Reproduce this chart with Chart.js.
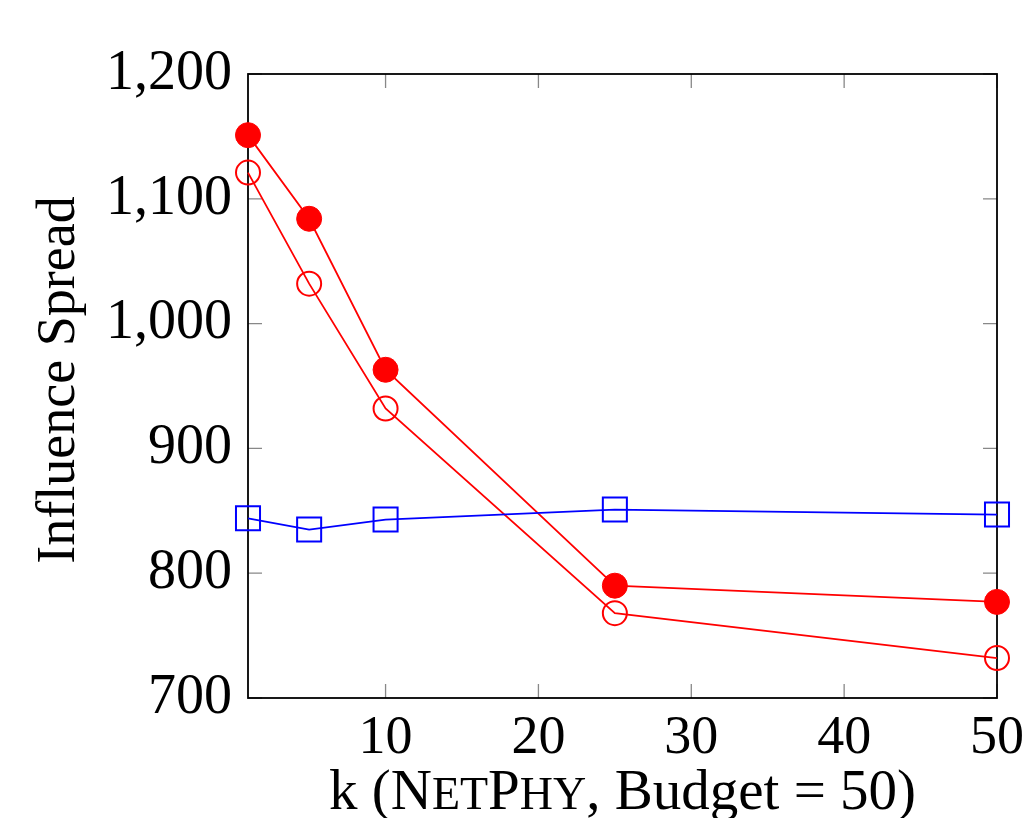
<!DOCTYPE html>
<html>
<head>
<meta charset="utf-8">
<script src="https://cdn.jsdelivr.net/npm/chart.js@4.4.1/dist/chart.umd.min.js"></script>
<style>
  html, body { margin: 0; padding: 0; background: #fff; }
  #wrap { width: 1025px; height: 818px; }
</style>
</head>
<body>
<div id="wrap"><canvas id="chart" width="1025" height="818"></canvas></div>
<script>
// values
var kValues = [1, 5, 10, 25, 50];
var filledRed = [1151, 1084, 963, 790, 777];
var openRed = [1121, 1032, 932, 768, 732];
var blueSquares = [844, 835, 843, 851, 847];
var xTicks = [10, 20, 30, 40, 50];
var yTicks = [700, 800, 900, 1000, 1100, 1200];

var FONT = '"Liberation Serif", "Times New Roman", serif';

function points(ys) {
  return kValues.map(function(k, i) { return { x: k, y: ys[i] }; });
}

// frame + inward tick marks, pgfplots style
var frame = {
  id: 'frame',
  beforeDatasetsDraw: function(chart) {
    var ctx = chart.ctx, a = chart.chartArea;
    var xs = chart.scales.x, ys = chart.scales.y;
    var len = 14;
    ctx.save();
    ctx.strokeStyle = '#888';
    ctx.lineWidth = 1.3;
    ctx.beginPath();
    xTicks.forEach(function(v) {
      var px = xs.getPixelForValue(v);
      ctx.moveTo(px, a.bottom); ctx.lineTo(px, a.bottom - len);
      ctx.moveTo(px, a.top); ctx.lineTo(px, a.top + len);
    });
    yTicks.forEach(function(v) {
      var py = ys.getPixelForValue(v);
      ctx.moveTo(a.left, py); ctx.lineTo(a.left + len, py);
      ctx.moveTo(a.right, py); ctx.lineTo(a.right - len, py);
    });
    ctx.stroke();
    ctx.strokeStyle = '#000';
    ctx.lineWidth = 1.8;
    ctx.strokeRect(a.left, a.top, a.right - a.left, a.bottom - a.top);
    ctx.restore();
  }
};

// axis titles, x one has small caps
var titles = {
  id: 'titles',
  afterDraw: function(chart) {
    var ctx = chart.ctx, a = chart.chartArea;
    var big = 57, small = 46;
    var parts = [
      ['k (N', big], ['ET', small], ['P', big], ['HY', small], [', Budget = 50)', big]
    ];
    ctx.save();
    ctx.fillStyle = '#000';
    ctx.textBaseline = 'alphabetic';
    ctx.textAlign = 'left';
    var total = 0;
    parts.forEach(function(p) {
      ctx.font = p[1] + 'px ' + FONT;
      total += ctx.measureText(p[0]).width;
    });
    var x = (a.left + a.right) / 2 - total / 2;
    parts.forEach(function(p) {
      ctx.font = p[1] + 'px ' + FONT;
      ctx.fillText(p[0], x, 809);
      x += ctx.measureText(p[0]).width;
    });

    ctx.translate(74, (a.top + a.bottom) / 2 - 6);
    ctx.rotate(-Math.PI / 2);
    ctx.textAlign = 'center';
    ctx.font = '54px ' + FONT;
    ctx.fillText('Influence Spread', 0, 0);
    ctx.restore();
  }
};

new Chart(document.getElementById('chart'), {
  type: 'line',
  data: {
    datasets: [
      {
        data: points(blueSquares),
        borderColor: '#0000ff',
        backgroundColor: 'rgba(0,0,0,0)',
        borderWidth: 1.8,
        pointStyle: 'rect',
        pointRadius: 17,
        pointBorderWidth: 2,
        clip: false
      },
      {
        data: points(openRed),
        borderColor: '#ff0000',
        backgroundColor: 'rgba(0,0,0,0)',
        borderWidth: 1.8,
        pointStyle: 'circle',
        pointRadius: 12,
        pointBorderWidth: 2,
        clip: false
      },
      {
        data: points(filledRed),
        borderColor: '#ff0000',
        backgroundColor: '#ff0000',
        borderWidth: 1.8,
        pointStyle: 'circle',
        pointRadius: 12.5,
        pointBorderWidth: 1,
        clip: false
      }
    ]
  },
  options: {
    responsive: false,
    animation: false,
    layout: { padding: { left: 0, top: 74, right: 28, bottom: 0 } },
    plugins: {
      legend: { display: false },
      tooltip: { enabled: false }
    },
    scales: {
      x: {
        type: 'linear',
        min: 1,
        max: 50,
        grid: { display: false },
        border: { display: false },
        ticks: { color: '#000', font: { family: FONT, size: 54 }, padding: 0 },
        afterBuildTicks: function(scale) {
          scale.ticks = xTicks.map(function(v) { return { value: v }; });
        },
        afterFit: function(scale) {
          scale.height = 120;
          scale.paddingLeft = 0;
          scale.paddingRight = 0;
        }
      },
      y: {
        min: 700,
        max: 1200,
        grid: { display: false },
        border: { display: false },
        ticks: { color: '#000', font: { family: FONT, size: 56 }, padding: 8 },
        afterBuildTicks: function(scale) {
          scale.ticks = yTicks.map(function(v) { return { value: v }; });
        },
        afterFit: function(scale) {
          scale.width = 248;
          scale.paddingTop = 0;
          scale.paddingBottom = 0;
        }
      }
    }
  },
  plugins: [frame, titles]
});
</script>
</body>
</html>
